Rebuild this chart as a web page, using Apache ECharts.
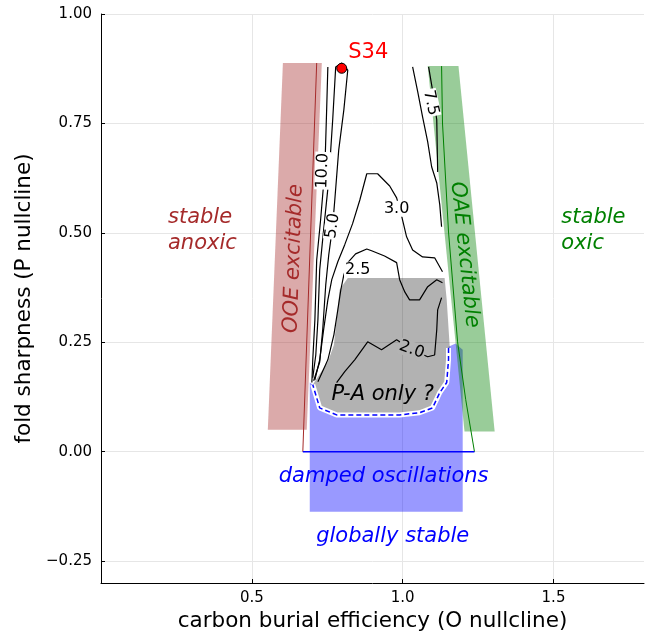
<!DOCTYPE html>
<html>
<head>
<meta charset="utf-8">
<script src="https://cdn.jsdelivr.net/npm/echarts@6/dist/echarts.min.js"></script>
<style>
html, body { margin: 0; padding: 0; background: #fff; }
#chart { width: 649px; height: 639px; }
</style>
</head>
<body>
<div id="chart"></div>
<script>
// x = carbon burial efficiency, y = fold sharpness
const xTicks = [0.5, 1.0, 1.5];
const yTicks = [-0.25, 0, 0.25, 0.5, 0.75, 1.0];

// shaded regions
const ooeBand = [[0.603, 0.888], [0.732, 0.888], [0.682, 0.05], [0.553, 0.05]];
const oaeBand = [[1.083, 0.881], [1.185, 0.881], [1.305, 0.046], [1.205, 0.046]];
const dampedRegion = [[0.692, 0.158], [0.702, 0.153], [0.725, 0.100], [0.781, 0.084], [0.990, 0.084],
  [1.056, 0.089], [1.099, 0.100], [1.123, 0.135], [1.146, 0.158], [1.152, 0.210], [1.152, 0.240],
  [1.175, 0.247], [1.199, 0.233], [1.199, -0.137], [0.692, -0.137]];
const paRegion = [[0.818, 0.397], [1.139, 0.397], [1.146, 0.347], [1.156, 0.240], [1.152, 0.210],
  [1.146, 0.158], [1.123, 0.135], [1.099, 0.100], [1.056, 0.089], [0.990, 0.084], [0.781, 0.084],
  [0.725, 0.100], [0.702, 0.153], [0.719, 0.171], [0.752, 0.205], [0.772, 0.244], [0.781, 0.301],
  [0.791, 0.370]];
const paBoundary = [[1.152, 0.237], [1.152, 0.210], [1.146, 0.158], [1.123, 0.135], [1.099, 0.100],
  [1.056, 0.089], [0.990, 0.084], [0.781, 0.084], [0.725, 0.100], [0.702, 0.153]];

// bifurcation lines
const ooeLine = [[0.715, 0.888], [0.669, 0]];
const oaeLine = [[1.129, 0.881], [1.132, 0.751], [1.152, 0.502], [1.182, 0.251], [1.209, 0.119], [1.238, 0]];
const hopfLine = [[0.669, 0], [1.238, 0]];

// period contours
const contour10 = [[0.752, 0.879], [0.748, 0.781], [0.742, 0.644], [0.728, 0.530], [0.715, 0.438],
  [0.709, 0.301], [0.702, 0.210], [0.699, 0.158]];
const contour5 = [[0.702, 0.169], [0.712, 0.221], [0.719, 0.301], [0.725, 0.416], [0.738, 0.507],
  [0.755, 0.621], [0.768, 0.758], [0.778, 0.879], [0.798, 0.888], [0.818, 0.872], [0.805, 0.781],
  [0.788, 0.689], [0.775, 0.575], [0.768, 0.516], [0.755, 0.450], [0.745, 0.381], [0.735, 0.279],
  [0.725, 0.205], [0.705, 0.162]];
const contour75a = [[1.033, 0.879], [1.050, 0.822], [1.066, 0.765], [1.083, 0.708], [1.096, 0.651],
  [1.113, 0.614], [1.123, 0.564], [1.129, 0.514]];
const contour75b = [[1.086, 0.879], [1.099, 0.826], [1.113, 0.758], [1.116, 0.639]];
const contour3 = [[0.709, 0.164], [0.725, 0.210], [0.738, 0.279], [0.752, 0.347], [0.765, 0.393],
  [0.785, 0.434], [0.808, 0.473], [0.834, 0.521], [0.858, 0.575], [0.881, 0.635], [0.917, 0.635],
  [0.957, 0.607], [0.980, 0.580], [0.997, 0.537], [1.013, 0.491], [1.033, 0.461], [1.066, 0.445],
  [1.106, 0.443], [1.132, 0.411]];
const contour25 = [[0.719, 0.160], [0.752, 0.210], [0.772, 0.267], [0.785, 0.324], [0.795, 0.370],
  [0.805, 0.404], [0.818, 0.432], [0.844, 0.452], [0.881, 0.463], [0.897, 0.459], [0.940, 0.447],
  [0.980, 0.432], [0.990, 0.393], [1.007, 0.365], [1.023, 0.347], [1.056, 0.347], [1.083, 0.377],
  [1.113, 0.393], [1.132, 0.386]];
const contour2 = [[0.781, 0.158], [0.808, 0.183], [0.841, 0.210], [0.884, 0.251], [0.930, 0.233],
  [0.980, 0.256], [1.030, 0.233], [1.083, 0.217], [1.106, 0.221], [1.113, 0.279], [1.116, 0.324],
  [1.129, 0.352]];

// contour labels: x, y, text, angle, background
const contourLabels = [
  [0.735, 0.642, '10.0', 88, '#ffffff'],
  [0.768, 0.516, '5.0', 82, '#ffffff'],
  [1.093, 0.797, '7.5', -78, '#ffffff'],
  [0.980, 0.555, '3.0', 0, '#ffffff'],
  [0.851, 0.416, '2.5', 0, '#ffffff'],
  [1.030, 0.233, '2.0', -20, '#b3b3b3']
];

// region annotations: x, y, text, angle, colour, align
const regionLabels = [
  [0.222, 0.505, 'stable\nanoxic', 0, '#a52a2a', 'left'],
  [1.526, 0.505, 'stable\noxic', 0, '#008000', 'left'],
  [0.639, 0.441, 'OOE excitable', 88, '#a52a2a', 'center'],
  [1.205, 0.450, 'OAE excitable', -84, '#008000', 'center'],
  [0.934, 0.130, 'P-A only ?', 0, '#000000', 'center'],
  [0.937, -0.057, 'damped oscillations', 0, '#0000ff', 'center'],
  [0.967, -0.194, 'globally stable', 0, '#0000ff', 'center']
];

const s34 = [0.798, 0.876];
const s34Name = 'S34';

const FONT = 'DejaVu Sans';

function polygon(points, color, z) {
  return {
    type: 'custom',
    coordinateSystem: 'cartesian2d',
    silent: true,
    z: z,
    data: [points[0]],
    renderItem: (params, api) => ({
      type: 'polygon',
      shape: { points: points.map(p => api.coord(p)) },
      style: { fill: color, stroke: null }
    })
  };
}

function line(points, color, width, z, type) {
  return {
    type: 'line',
    data: points,
    showSymbol: false,
    silent: true,
    z: z,
    lineStyle: { color: color, width: width, type: type || 'solid' }
  };
}

const contours = [contour10, contour5, contour75a, contour75b, contour3, contour25, contour2];

const chart = echarts.init(document.getElementById('chart'));

const option = {
  animation: false,
  backgroundColor: '#fff',
  grid: { left: 101, right: 5, top: 14, bottom: 56 },
  xAxis: {
    type: 'value',
    min: 0,
    max: 1.8,
    name: 'carbon burial efficiency (O nullcline)',
    nameLocation: 'middle',
    nameGap: 26,
    nameTextStyle: { fontFamily: FONT, fontSize: 21.5, color: '#000' },
    axisLine: { onZero: false, lineStyle: { color: '#000', width: 1 } },
    axisTick: { inside: true, length: 4, customValues: xTicks, lineStyle: { color: '#000' } },
    axisLabel: {
      customValues: xTicks,
      formatter: v => v.toFixed(1),
      fontFamily: FONT, fontSize: 15, color: '#000', margin: 8
    },
    splitLine: { show: true, lineStyle: { color: '#e6e6e6', width: 1 } }
  },
  yAxis: {
    type: 'value',
    min: -0.3,
    max: 1.0,
    name: 'fold sharpness (P nullcline)',
    nameLocation: 'middle',
    nameGap: 60,
    nameTextStyle: { fontFamily: FONT, fontSize: 21.5, color: '#000' },
    axisLine: { show: true, onZero: false, lineStyle: { color: '#000', width: 1 } },
    axisTick: { show: true, inside: true, length: 4, customValues: yTicks, lineStyle: { color: '#000' } },
    axisLabel: {
      customValues: yTicks,
      formatter: v => (v < 0 ? '\u2212' + Math.abs(v).toFixed(2) : v.toFixed(2)),
      fontFamily: FONT, fontSize: 15, color: '#000', margin: 9
    },
    splitLine: { show: true, lineStyle: { color: '#e6e6e6', width: 1 } }
  },
  series: [
    polygon(dampedRegion, 'rgba(0,0,255,0.4)', 1),
    polygon(ooeBand, 'rgba(165,42,42,0.4)', 2),
    polygon(oaeBand, 'rgba(0,128,0,0.4)', 2),
    polygon(paRegion, 'rgba(0,0,0,0.3)', 3),
    line(paBoundary, '#ffffff', 5, 4),
    line(paBoundary, '#0000ff', 1.5, 5, [5, 3]),
    ...contours.map(c => line(c, '#000000', 1.2, 6)),
    line(ooeLine, '#a52a2a', 1, 7),
    line(oaeLine, '#008000', 1, 7),
    line(hopfLine, '#0000ff', 1.5, 7),
    {
      type: 'scatter',
      silent: true,
      z: 8,
      symbolSize: 0,
      itemStyle: { opacity: 1 },
      data: contourLabels.map(d => ({
        value: [d[0], d[1]],
        label: { formatter: d[2], rotate: d[3], backgroundColor: d[4] }
      })),
      label: {
        show: true, position: 'inside', opacity: 1,
        fontFamily: FONT, fontSize: 16, color: '#000', padding: [0, 1]
      }
    },
    {
      type: 'scatter',
      silent: true,
      z: 9,
      symbolSize: 0,
      itemStyle: { opacity: 1 },
      data: regionLabels.map(d => ({
        value: [d[0], d[1]],
        label: { formatter: d[2], rotate: d[3], color: d[4], align: d[5] }
      })),
      label: {
        show: true, position: 'inside', opacity: 1,
        fontFamily: FONT, fontSize: 21, fontStyle: 'italic', lineHeight: 26
      }
    },
    {
      type: 'scatter',
      z: 10,
      silent: true,
      symbol: 'circle',
      symbolSize: 10,
      itemStyle: { color: '#ff0000', borderColor: '#000', borderWidth: 1, opacity: 1 },
      data: [s34],
      label: {
        show: true, formatter: s34Name, position: [12, -21], opacity: 1,
        fontFamily: FONT, fontSize: 21, color: '#ff0000'
      }
    }
  ]
};

chart.setOption(option);
window.addEventListener('resize', () => chart.resize());
</script>
</body>
</html>
